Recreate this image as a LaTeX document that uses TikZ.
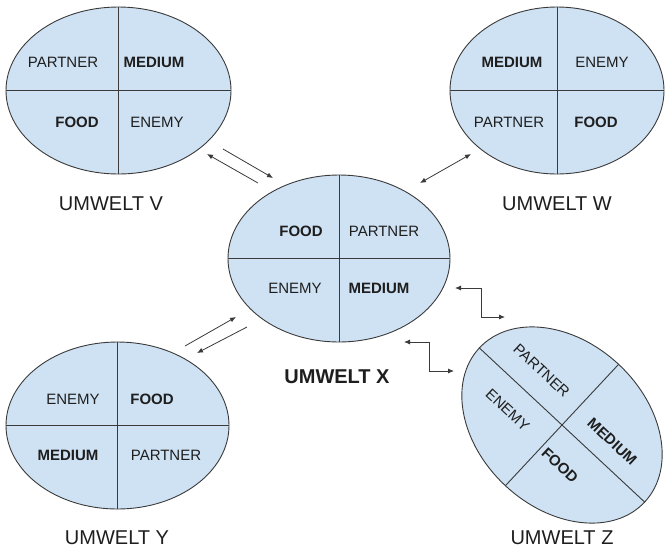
\documentclass[tikz,border=0pt]{standalone}
\usepackage{fontspec}
\setmainfont{Liberation Sans}
\usetikzlibrary{shapes.geometric,arrows.meta}
\definecolor{ufill}{HTML}{CFE2F3}
\definecolor{uline}{HTML}{3A3A3A}
\definecolor{utext}{HTML}{1E1E1E}
\tikzset{
  umwelt/.style={ellipse, draw=uline, fill=ufill, line width=0.9pt, inner sep=0pt},
  divider/.style={draw=uline, line width=0.9pt},
  word/.style={font=\fontsize{15}{18}\selectfont, text=utext, inner sep=0pt},
  bword/.style={word, font=\fontsize{15}{18}\selectfont\bfseries},
  caption/.style={font=\fontsize{20}{24}\selectfont, text=utext, inner sep=0pt},
  bcaption/.style={caption, font=\fontsize{20}{24}\selectfont\bfseries},
  link/.style={draw=uline, line width=0.8pt, -{Latex[length=6pt,width=5pt]}},
  dlink/.style={draw=uline, line width=0.8pt, {Latex[length=6pt,width=5pt]}-{Latex[length=6pt,width=5pt]}},
}
\begin{document}
\begin{tikzpicture}[x=1pt,y=-1pt]
\useasboundingbox (0,0) rectangle (666,555);

% ---- Umwelt V ----
\node[umwelt, minimum width=225pt, minimum height=167pt] (V) at (118.5,90.5) {};
\draw[divider] (V.north) -- (V.south) (V.west) -- (V.east);
\node[word]  (vp) at (63,62)   {PARTNER};
\node[bword] (vm) at (154,62)  {MEDIUM};
\node[bword] (vf) at (77,122)  {FOOD};
\node[word]  (ve) at (157,122) {ENEMY};
\node[caption] (vl) at (111,204) {UMWELT V};

% ---- Umwelt W ----
\node[umwelt, minimum width=214pt, minimum height=167pt] (W) at (557,90.5) {};
\draw[divider] (W.north) -- (W.south) (W.west) -- (W.east);
\node[bword] (wm) at (512,62)  {MEDIUM};
\node[word]  (we) at (602,62)  {ENEMY};
\node[word]  (wp) at (509,122) {PARTNER};
\node[bword] (wf) at (596,122) {FOOD};
\node[caption] (wl) at (557,204) {UMWELT W};

% ---- Umwelt X ----
\node[umwelt, minimum width=222pt, minimum height=167pt] (X) at (339,258.5) {};
\draw[divider] (X.north) -- (X.south) (X.west) -- (X.east);
\node[bword] (xf) at (301,231) {FOOD};
\node[word]  (xp) at (384,231) {PARTNER};
\node[word]  (xe) at (295,288) {ENEMY};
\node[bword] (xm) at (379,288) {MEDIUM};
\node[bcaption] (xl) at (337,377) {UMWELT X};

% ---- Umwelt Y ----
\node[umwelt, minimum width=223pt, minimum height=167pt] (Y) at (117.5,425.5) {};
\draw[divider] (Y.north) -- (Y.south) (Y.west) -- (Y.east);
\node[word]  (ye) at (73,399)  {ENEMY};
\node[bword] (yf) at (152,399) {FOOD};
\node[bword] (ym) at (68,455)  {MEDIUM};
\node[word]  (yp) at (166,455) {PARTNER};
\node[caption] (yl) at (117,538) {UMWELT Y};

% ---- Umwelt Z (rotated) ----
\node[umwelt, minimum width=226pt, minimum height=166pt, rotate=-43] (Z) at (562,425) {};
\draw[divider] (Z.north) -- (Z.south) (Z.west) -- (Z.east);
\begin{scope}[shift={(562,425)}, rotate=-43]
  \node[word,  rotate=-43] (zp) at (-52,-26) {PARTNER};
  \node[bword, rotate=-43] (zm) at (48,-22)  {MEDIUM};
  \node[word,  rotate=-43] (ze) at (-50,26)  {ENEMY};
  \node[bword, rotate=-43] (zf) at (26,31)   {FOOD};
\end{scope}
\node[caption] (zl) at (562,538) {UMWELT Z};

% ---- connectors ----
\coordinate (vxa) at (223,149); \coordinate (vxb) at (273,178);
\coordinate (xva) at (258,183); \coordinate (xvb) at (207,154);
\draw[link] (vxa) -- (vxb);
\draw[link] (xva) -- (xvb);

\coordinate (wxa) at (420,183); \coordinate (wxb) at (471,154);
\draw[dlink] (wxa) -- (wxb);

\coordinate (yxa) at (185,346); \coordinate (yxb) at (236,317);
\coordinate (xya) at (247,327); \coordinate (xyb) at (197,353);
\draw[link] (yxa) -- (yxb);
\draw[link] (xya) -- (xyb);

\coordinate (zxa) at (455,288); \coordinate (zxb) at (505,317);
\draw[dlink] (zxa) -- ++(26,0) |- (zxb);
\coordinate (zya) at (404,342); \coordinate (zyb) at (454,371);
\draw[dlink] (zya) -- ++(25,0) |- (zyb);
\end{tikzpicture}
\end{document}
